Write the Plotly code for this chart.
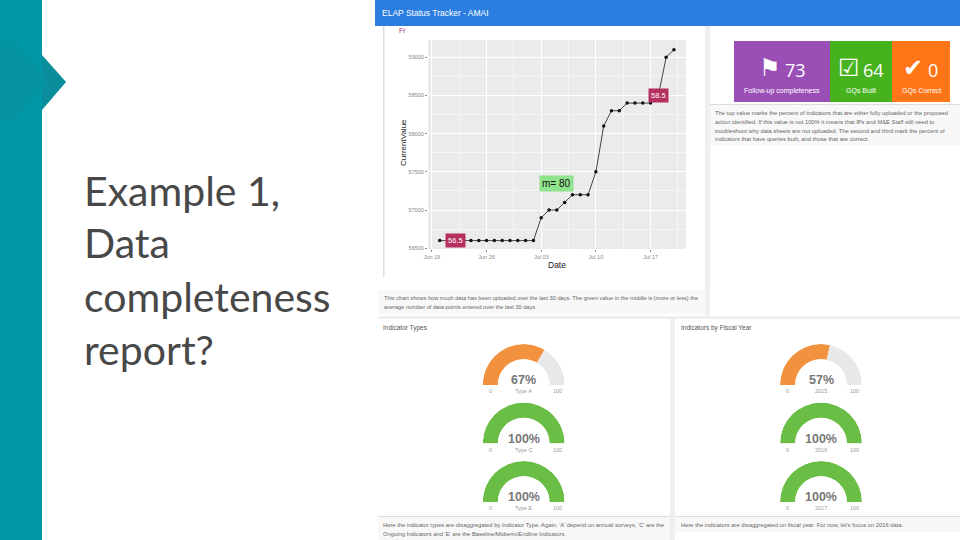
import plotly.graph_objects as go

W, H = 960, 540

# tracker line chart
dates = ["2017-06-%02d" % d for d in range(20, 31)] + ["2017-07-%02d" % d for d in range(1, 21)]
current_value = [56600] * 13 + [56900, 57000, 57000, 57100, 57200, 57200, 57200, 57500, 58100,
                                58300, 58300, 58400, 58400, 58400, 58400, 58500, 59000, 59100]
x_ticks = ["2017-06-19", "2017-06-26", "2017-07-03", "2017-07-10", "2017-07-17"]
x_tick_labels = ["Jun 19", "Jun 26", "Jul 03", "Jul 10", "Jul 17"]
y_ticks = [56500, 57000, 57500, 58000, 58500, 59000]

# gauges
type_names = ["Type A", "Type C", "Type E"]
type_values = [67, 100, 100]
year_names = ["2015", "2016", "2017"]
year_values = [57, 100, 100]

# value boxes
box_values = ["73", "64", "0"]
box_icons = ["\u2691", "\u2611", "\u2714"]
box_labels = ["Follow-up completeness", "GQs Built", "GQs Correct"]

title_lines = ["Example 1,", "Data", "completeness", "report?"]

ORANGE = "#F2923E"
GREEN = "#6ABD45"
GREY = "#E8E8E8"


def px(x):
    return x / W


def py(y):
    return 1 - y / H


def rect(x0, y0, x1, y1, color):
    return dict(type="rect", xref="paper", yref="paper", layer="below",
                x0=px(x0), x1=px(x1), y0=py(y1), y1=py(y0),
                fillcolor=color, line_width=0)


def poly(points, color):
    path = "M " + " L ".join("%f,%f" % (px(a), py(b)) for a, b in points) + " Z"
    return dict(type="path", xref="paper", yref="paper", layer="below", path=path,
                fillcolor=color, line_width=0)


def label(x, y, text, size, color="#555555", anchor="center", **kw):
    return dict(xref="paper", yref="paper", x=px(x), y=py(y), text=text, showarrow=False,
                xanchor=anchor, yanchor="middle", align="left" if anchor == "left" else "center",
                font=dict(size=size, color=color, family=kw.pop("family", "Liberation Sans")),
                borderpad=0, **kw)


fig = go.Figure()

fig.add_trace(go.Scatter(
    x=dates, y=current_value, mode="lines+markers",
    line=dict(color="#1a1a1a", width=0.8),
    marker=dict(color="#111111", size=3.5),
    hoverinfo="skip", showlegend=False,
))

# semicircle gauges, each one a half polar subplot
gauge_rows = [385, 443.5, 502]
gauge_r = 41
polar_layouts = {}
n = 0
for cx, names, values in [(523.7, type_names, type_values), (821, year_names, year_values)]:
    for base, name, value in zip(gauge_rows, names, values):
        n += 1
        key = "polar" if n == 1 else "polar%d" % n
        rest = 100 - value
        fig.add_trace(go.Barpolar(
            r=[1, 1],
            theta=[value * 0.9, value * 1.8 + rest * 0.9],
            width=[value * 1.8, rest * 1.8],
            marker=dict(color=[ORANGE if value < 100 else GREEN, GREY], line_width=0),
            hoverinfo="skip", showlegend=False, subplot=key,
        ))
        polar_layouts[key] = dict(
            domain=dict(x=[px(cx - gauge_r), px(cx + gauge_r)], y=[py(base), py(base - gauge_r)]),
            sector=[0, 180], hole=0.63, bgcolor="rgba(0,0,0,0)",
            radialaxis=dict(visible=False, range=[0, 1]),
            angularaxis=dict(visible=False, rotation=180, direction="clockwise"),
        )

shapes = [
    # slide furniture
    rect(0, 0, 42, 540, "#0098A6"),
    poly([(42, 55), (66, 82), (42, 110)], "#0A8E9C"),
    poly([(0, 41), (16, 41), (48, 81), (16, 120), (0, 120)], "#0593A1"),
    # dashboard
    rect(372, 0, 960, 540, "#EFEFEF"),
    rect(372, 0, 378, 540, "#FFFFFF"),
    rect(378, 26, 705, 316, "#FFFFFF"),
    rect(710, 26, 960, 316, "#FFFFFF"),
    rect(710, 105, 960, 145, "#F8F8F8"),
    rect(710, 104, 960, 105, "#DDDDDD"),
    rect(378, 319, 670, 540, "#FFFFFF"),
    rect(675, 319, 960, 540, "#FFFFFF"),
    rect(378, 290, 705, 314, "#F8F8F8"),
    rect(378, 516, 670, 540, "#F8F8F8"),
    rect(378, 516, 670, 517, "#DDDDDD"),
    rect(675, 516, 960, 532, "#F8F8F8"),
    rect(675, 516, 960, 517, "#DDDDDD"),
    rect(383, 26, 384.5, 277, "#DDDDDD"),
    rect(375, 0, 960, 26, "#2A7DE1"),
    # ggplot panel background
    rect(428, 40, 686, 249, "#EBEBEB"),
    # value boxes
    rect(734, 41, 830, 102, "#9A4FB6"),
    rect(830, 41, 892, 102, "#46B31E"),
    rect(892, 41, 950, 102, "#FF7518"),
]

annotations = []

for i, line in enumerate(title_lines):
    annotations.append(label(83, 190 + i * 53, line, 41, "#484848", "left", family="Lato"))

annotations += [
    label(381, 13, "ELAP Status Tracker - AMAI", 8.5, "#FFFFFF", "left"),
    label(398, 30, "Fr", 7, "#B0307A", "left"),
    label(383, 298, "This chart shows how much data has been uploaded over the last 30 days. "
                    "The green value in the middle is (more or less) the", 5.65, "#666666", "left"),
    label(383, 307, "average number of data-points entered over the last 30 days.", 5.65, "#666666", "left"),
    label(714, 113, "The top value marks the percent of indicators that are either fully uploaded or the proposed", 5.8, "#666666", "left"),
    label(714, 122, "action identified. If this value is not 100% it means that IPs and M&amp;E Staff still need to", 5.8, "#666666", "left"),
    label(714, 131, "troubleshoot why data sheets are not uploaded. The second and third mark the percent of", 5.8, "#666666", "left"),
    label(714, 139, "indicators that have queries built, and those that are correct.", 5.8, "#666666", "left"),
    label(382, 328, "Indicator Types", 6.5, "#555555", "left"),
    label(680, 328, "Indicators by Fiscal Year", 6.5, "#555555", "left"),
    label(382, 525, "Here the indicator types are disaggregated by Indicator Type. Again, 'A' depend on annual surveys, 'C' are the", 5.8, "#666666", "left"),
    label(382, 534, "Ongoing Indicators and 'E' are the Baseline/Midterm/Endline Indicators.", 5.8, "#666666", "left"),
    label(680, 525, "Here the indicators are disaggregated on fiscal year. For now, let's focus on 2016 data.", 5.8, "#666666", "left"),
]

# value boxes text
for cx, icon_x, num_x, icon, value, name in zip([782, 861, 921], [770, 849, 913], [795, 873, 933],
                                                box_icons, box_values, box_labels):
    annotations.append(label(icon_x, 68, icon, 24, "#FFFFFF", family="DejaVu Sans"))
    annotations.append(label(num_x, 70, value, 18, "#FFFFFF", family="Open Sans"))
    annotations.append(label(cx, 91, name, 7, "#FFFFFF"))

# gauge text
for cx, names, values in [(523.7, type_names, type_values), (821, year_names, year_values)]:
    for base, name, value in zip(gauge_rows, names, values):
        annotations.append(label(cx, base - 5, "<b>%d%%</b>" % value, 12.5, "#777777"))
        annotations.append(label(cx - 33.5, base + 6, "0", 5.5, "#999999"))
        annotations.append(label(cx, base + 6, name, 5.5, "#999999"))
        annotations.append(label(cx + 33.5, base + 6, "100", 5.5, "#999999"))

# chart callouts, placed on the data axes
for when, y, text, bg, fg, size in [
    ("2017-06-22", 56600, "56.5", "#B5305F", "#FFFFFF", 7.5),
    ("2017-07-18", 58500, "58.5", "#B5305F", "#FFFFFF", 7.5),
    ("2017-07-05", 57350, "m= 80", "#8FE38C", "#111111", 10),
]:
    annotations.append(dict(xref="x", yref="y", x=when, y=y, text=text, showarrow=False,
                            bgcolor=bg, borderpad=2, font=dict(size=size, color=fg,
                                                               family="Liberation Sans")))

annotations.append(label(403, 143, "CurrentValue", 8, "#222222", textangle=-90))
annotations.append(label(557, 265, "Date", 8.5, "#222222"))

fig.update_layout(
    width=W, height=H,
    margin=dict(l=0, r=0, t=0, b=0, autoexpand=False),
    paper_bgcolor="#FFFFFF", plot_bgcolor="#EBEBEB",
    shapes=shapes, annotations=annotations,
    xaxis=dict(
        domain=[px(428), px(686)], type="date", automargin=False,
        range=["2017-06-18 12:00", "2017-07-21 13:00"],
        tickvals=x_ticks, ticktext=x_tick_labels,
        tickfont=dict(size=5.5, color="#888888", family="Liberation Sans"),
        ticks="outside", ticklen=2, tickcolor="#888888", tickwidth=0.5,
        gridcolor="#FFFFFF", gridwidth=0.8, zeroline=False, showline=False,
        minor=dict(tickvals=["2017-06-22 12:00", "2017-06-29 12:00", "2017-07-06 12:00", "2017-07-13 12:00", "2017-07-20 12:00"],
                   showgrid=True, gridcolor="#F5F5F5", gridwidth=0.4),
    ),
    yaxis=dict(
        domain=[py(249), py(40)], range=[56490, 59226], automargin=False,
        tickvals=y_ticks, tickformat="d",
        tickfont=dict(size=5.5, color="#888888", family="Liberation Sans"),
        ticks="outside", ticklen=2, tickcolor="#888888", tickwidth=0.5,
        gridcolor="#FFFFFF", gridwidth=0.8, zeroline=False, showline=False,
        minor=dict(tickvals=[56750, 57250, 57750, 58250, 58750, 59250],
                   showgrid=True, gridcolor="#F5F5F5", gridwidth=0.4),
    ),
    **polar_layouts,
)

# the page's default margins would push the figure off the 960x540 window
page_fix = """
document.documentElement.style.margin = '0';
document.body.style.margin = '0';
document.body.style.overflow = 'hidden';
document.querySelectorAll('.svg-container').forEach(function (el) { el.style.margin = '0'; });
"""
fig.write_html("out.html", config={"displayModeBar": False}, post_script=page_fix)
